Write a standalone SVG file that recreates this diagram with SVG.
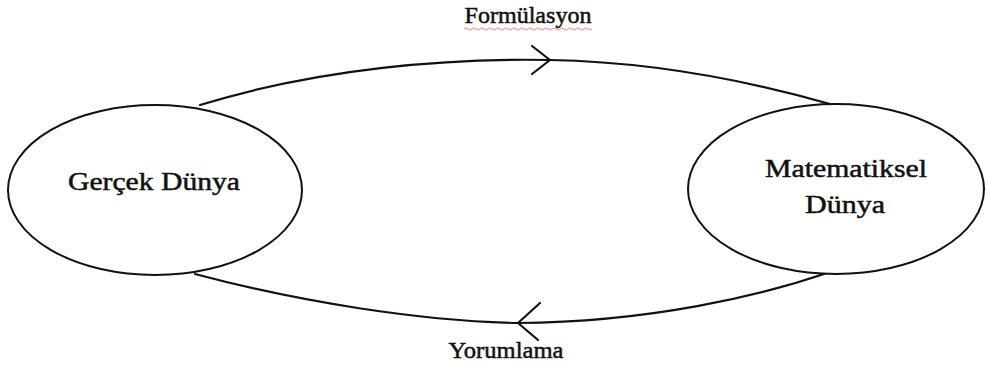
<svg xmlns="http://www.w3.org/2000/svg" width="987" height="369" viewBox="0 0 987 369">
<style>
.node{fill:#fff;stroke:#111;stroke-width:2}
.edge{fill:none;stroke:#111;stroke-width:2.2;stroke-linecap:round;stroke-linejoin:round}
.lbl{font-family:"Liberation Serif","Times New Roman",serif;font-size:26px;fill:#111;stroke:#111;stroke-width:0.5}
.elbl{font-family:"Liberation Serif","Times New Roman",serif;font-size:23px;fill:#111;stroke:#111;stroke-width:0.5}
</style>
<rect width="987" height="369" fill="#fff"/>
<g id="connectors">
<path class="edge" d="M200,105 C320,68 450,58 550,60 C660,62 760,84 830,104"/>
<path class="edge" d="M532,46 L550,60 L532,74"/>
<path class="edge" d="M195,274 C300,302 420,321 518,323 C650,322 760,296 830,272"/>
<path class="edge" d="M540,303 L518,323 L538,340"/>
</g>
<g id="gercek">
<ellipse class="node" cx="155" cy="190" rx="147" ry="85"/>
<text class="lbl" x="154" y="190" text-anchor="middle" textLength="172" lengthAdjust="spacingAndGlyphs">Gerçek Dünya</text>
</g>
<g id="matematiksel">
<ellipse class="node" cx="836" cy="189" rx="148" ry="85"/>
<text class="lbl" x="846" y="177" text-anchor="middle" textLength="162" lengthAdjust="spacingAndGlyphs">Matematiksel</text>
<text class="lbl" x="845" y="213" text-anchor="middle" textLength="80" lengthAdjust="spacingAndGlyphs">Dünya</text>
</g>
<g id="label-formulasyon">
<text class="elbl" x="528" y="23" text-anchor="middle" textLength="127" lengthAdjust="spacingAndGlyphs">Formülasyon</text>
<path d="M464,29 q2,-2 4,0 t4,0 t4,0 t4,0 t4,0 t4,0 t4,0 t4,0 t4,0 t4,0 t4,0 t4,0 t4,0 t4,0 t4,0 t4,0 t4,0 t4,0 t4,0 t4,0 t4,0 t4,0 t4,0 t4,0 t4,0 t4,0 t4,0 t4,0 t4,0 t4,0 t4,0 t4,0" fill="none" stroke="#e05050" stroke-width="1" opacity="0.7"/>
</g>
<g id="label-yorumlama">
<text class="elbl" x="506" y="358" text-anchor="middle" textLength="115" lengthAdjust="spacingAndGlyphs">Yorumlama</text>
</g>
</svg>
